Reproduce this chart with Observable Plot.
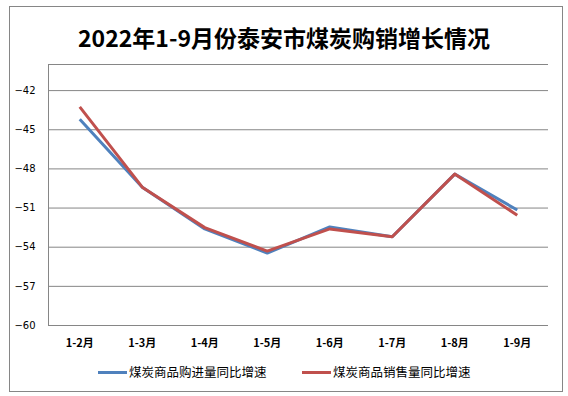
<!DOCTYPE html>
<html><head><meta charset="utf-8">
<script src="https://cdn.jsdelivr.net/npm/d3@7"></script>
<script src="https://cdn.jsdelivr.net/npm/@observablehq/plot@0.6"></script>
<style>
body{margin:0;background:#fff;}
#wrap{position:relative;width:568px;height:396px;overflow:hidden;}
#frame{position:absolute;left:9px;top:6px;width:552px;height:384px;border:1px solid #868686;}
#title{position:absolute;left:0;top:22px;width:568px;text-align:center;font:bold 23px "Noto Sans CJK SC","Liberation Sans",sans-serif;color:#000;line-height:30px;}
#chart{position:absolute;left:0;top:0;}
#legend{position:absolute;top:363px;left:0;width:568px;font:12.5px "Noto Sans CJK SC",sans-serif;color:#000;}
.item{position:absolute;display:flex;align-items:center;line-height:18px;white-space:nowrap;}
.sw{display:inline-block;width:29px;height:3px;margin-right:2px;}
</style></head>
<body>
<div id="wrap">
<div id="frame"></div>
<div id="title">2022年1-9月份泰安市煤炭购销增长情况</div>
<div id="chart"></div>
<div id="legend"></div>
</div>
<script>
const categories = ["1-2月","1-3月","1-4月","1-5月","1-6月","1-7月","1-8月","1-9月"];
const seriesNames = ["煤炭商品购进量同比增速","煤炭商品销售量同比增速"];
const purchase = [-44.2, -49.4, -52.6, -54.45, -52.45, -53.2, -48.4, -51.15];
const sales = [-43.25, -49.4, -52.5, -54.3, -52.6, -53.2, -48.4, -51.55];
const yTicks = [-42, -45, -48, -51, -54, -57, -60];
const gridValues = [-40, -42, -45, -48, -51, -54, -57, -60];
const colors = ["#4F81BD", "#C0504D"];

const data = [];
categories.forEach((c, i) => {
  data.push({cat: c, value: purchase[i], series: seriesNames[0]});
  data.push({cat: c, value: sales[i], series: seriesNames[1]});
});

const leftAxisLine = (index, scales, values, dims) => {
  const g = document.createElementNS("http://www.w3.org/2000/svg", "line");
  const x = dims.marginLeft + 0.5;
  g.setAttribute("x1", x); g.setAttribute("x2", x);
  g.setAttribute("y1", scales.y(-40)); g.setAttribute("y2", scales.y(-60));
  g.setAttribute("stroke", "#868686");
  return g;
};

const chart = Plot.plot({
  width: 568,
  height: 396,
  marginLeft: 48,
  marginRight: 20,
  marginTop: 64,
  marginBottom: 71,
  style: {background: "transparent", overflow: "visible"},
  x: {type: "point", domain: categories, padding: 0.5, round: false, label: null},
  y: {domain: [-60, -40], label: null},
  color: {domain: seriesNames, range: colors},
  marks: [
    Plot.ruleY(gridValues, {stroke: "#868686", strokeWidth: 1, strokeOpacity: 1}),
    leftAxisLine,
    Plot.axisY({ticks: yTicks, tickSize: 0, tickPadding: 13, label: null,
      fontSize: 10, fontFamily: "DejaVu Sans", fill: "#000"}),
    Plot.axisX({tickSize: 0, tickPadding: 14, label: null,
      fontSize: 11, fontFamily: "Noto Sans CJK SC", fontWeight: "bold", fill: "#000"}),
    Plot.line(data, {x: "cat", y: "value", z: "series", stroke: "series", strokeWidth: 3, strokeLinejoin: "round", strokeLinecap: "butt"})
  ]
});
document.getElementById("chart").appendChild(chart);

const legend = document.getElementById("legend");
const lefts = [98, 302];
seriesNames.forEach((n, i) => {
  const it = document.createElement("div");
  it.className = "item";
  it.style.left = lefts[i] + "px";
  it.innerHTML = `<span class="sw" style="background:${colors[i]}"></span><span>${n}</span>`;
  legend.appendChild(it);
});
</script>
</body></html>
